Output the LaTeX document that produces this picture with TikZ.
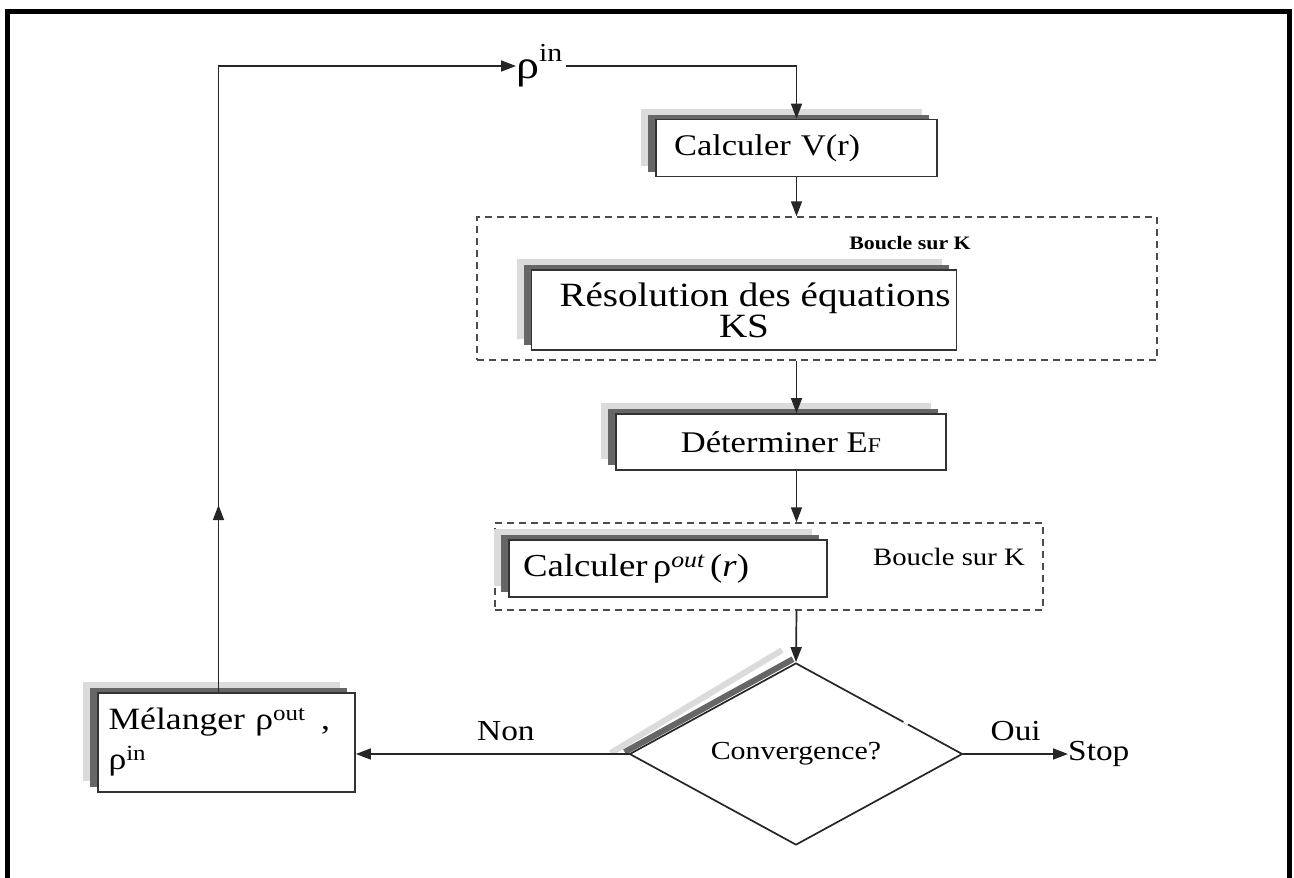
\documentclass[tikz,border=0pt]{standalone}
\usepackage{fontspec}
\setmainfont[FakeStretch=1.15]{Liberation Serif}
\usetikzlibrary{shapes.geometric,arrows.meta,shadows,backgrounds}
\newcommand{\fsz}[2]{\fontsize{#1}{#2}\selectfont}
\begin{document}
\begin{tikzpicture}[x=1pt,y=-1pt,
  ln/.style={draw=black!85, line width=1.7pt},
  arr/.style={ln, -{Triangle[length=15pt,width=11pt]}},
  box/.style={draw=black!80, line width=1.8pt, fill=white, inner sep=0pt,
    general shadow={fill=black!14, shadow xshift=-15pt, shadow yshift=11pt},
    general shadow={fill=black!60, shadow xshift=-8pt, shadow yshift=5pt}},
  dbox/.style={draw=black!70, line width=1.4pt, dash pattern=on 7pt off 5pt, inner sep=0pt},
  lbl/.style={inner sep=0pt, text=black}
]
\useasboundingbox (0,0) rectangle (1294,878);
\draw[line width=5pt] (7,880) -- (7,11) -- (1289,11) -- (1289,880);

% dashed loop boxes
\node[dbox, minimum width=680pt, minimum height=143pt] (d1) at (817,288.5) {};
\node[dbox, minimum width=548pt, minimum height=87pt] (d2) at (769,566.5) {};
\node[lbl, font=\fsz{19}{20}\bfseries] (bk1) at (910,243) {Boucle sur K};
\node[lbl, font=\fsz{25}{26}] (bk2) at (949,557) {Boucle sur K};

% process boxes
\node[box, minimum width=281pt, minimum height=57pt, text width=245pt, inner xsep=18pt, align=left, font=\fsz{30}{32}] (cv) at (796.5,148) {Calculer V(r)};
\node[box, minimum width=425pt, minimum height=80pt, align=center, font=\fsz{34}{27}] (res) at (744,310) {\hspace*{22pt}Résolution des équations\\KS};
\node[box, minimum width=330pt, minimum height=56pt, font=\fsz{30}{32}] (det) at (781,442) {Déterminer E{\fsz{21}{22}F}};
\node[box, minimum width=316pt, minimum height=57pt, text width=290pt, inner xsep=14pt, align=left, font=\fsz{32}{34}] (cro) at (668,568.5) {Calculer\,ρ\textsuperscript{\itshape out}\,(\textit{r})};
\node[box, minimum width=257pt, minimum height=99pt, text width=236pt, inner xsep=10pt, align=left, font=\fsz{31}{40}] (mel) at (226.5,742.5) {Mélanger ρ\textsuperscript{out}\, ,\\ρ\textsuperscript{in}};

% decision
\node[diamond, draw=black!85, line width=1.7pt, fill=white, inner sep=0pt, minimum width=333pt, minimum height=182pt, shape aspect=1.83, font=\fsz{26}{28}] (conv) at (796,754) {Convergence?};
\begin{pgfonlayer}{background}
\draw[line width=6pt, black!14] ([shift={(-18pt,1pt)}]conv.west) -- ([shift={(-14pt,12pt)}]conv.north);
\draw[line width=6pt, black!60] ([shift={(-4pt,2pt)}]conv.west) -- ([shift={(-3pt,3pt)}]conv.north);
\end{pgfonlayer}
\path (conv.north) -- (conv.east) coordinate[pos=0.645] (g1) coordinate[pos=0.67] (g2);
\draw[white, line width=3pt] (g1) -- (g2);

\node[lbl, anchor=west, font=\fsz{40}{42}] (rho) at (516,66) {ρ\raisebox{8pt}{\textsuperscript{\fsz{26}{26}in}}\kern3pt};
\node[lbl, anchor=west, font=\fsz{29}{30}] (stop) at (1068,754) {Stop};

% connectors
\draw[arr] ([xshift=-8pt]mel.north) |- (rho.west);
\draw[arr] ([xshift=-8pt]mel.north) -- ++(0,-187);
\draw[arr] (rho.east) -| (cv.north);
\draw[arr] (cv.south) -- (cv.south |- d1.north);
\draw[arr] (cv.south |- d1.south) -- (cv.south |- det.north);
\draw[arr] (cv.south |- det.south) -- (cv.south |- d2.north);
\draw[arr] (cv.south |- d2.south) -- (conv.north);
\draw[arr] (conv.west) -- (conv.west -| mel.east) node[lbl, pos=0.45, above=12pt, font=\fsz{29}{30}] {Non};
\draw[arr] (conv.east) -- (stop.west) node[lbl, midway, above=12pt, font=\fsz{29}{30}] {Oui};
\end{tikzpicture}
\end{document}
